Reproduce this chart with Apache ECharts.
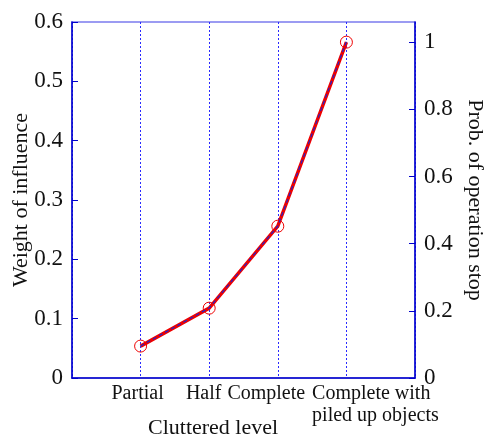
<!DOCTYPE html>
<html>
<head>
<meta charset="utf-8">
<script src="https://cdn.jsdelivr.net/npm/echarts@6/dist/echarts.min.js"></script>
<style>
  html, body { margin: 0; padding: 0; background: #fff; }
  #main { width: 484px; height: 443px; }
</style>
</head>
<body>
<div id="main"></div>
<script>
// clutter levels, placed at x = 1..4 on a 0..5 axis
var categories = ['Partial', 'Half', 'Complete', 'Complete with\npiled up objects'];
var xPos = [1, 2, 3, 4];
// left axis: weight of influence
var weight = [0.054, 0.118, 0.256, 0.567];
// right axis: probability of operation stop
var prob = [0.095, 0.208, 0.452, 1.0];

var font = 'Liberation Serif, Times New Roman, serif';
var axisBlue = '#0000cc';

var chart = echarts.init(document.getElementById('main'));
chart.setOption({
  animation: false,
  grid: {
    left: 72, right: 69, top: 22, bottom: 65,
    outerBoundsMode: 'none',
    containLabel: false,
    show: true, borderColor: '#7b7bee', borderWidth: 1.5
  },
  xAxis: {
    type: 'value', min: 0, max: 5, interval: 1,
    axisLine: { lineStyle: { color: axisBlue, width: 1.5 } },
    axisTick: { show: false },
    splitLine: { show: true, lineStyle: { color: '#2a2aff', type: [2, 2], width: 1 } },
    axisLabel: {
      color: '#111', fontFamily: font, fontSize: 20, lineHeight: 22, margin: 5,
      formatter: function (v) {
        if (v === 1) return '{a|' + categories[0] + '}';
        if (v === 2) return '{b|' + categories[1] + '}';
        if (v === 3) return '{c|' + categories[2] + '}';
        if (v === 4) return categories[3].split('\n').map(function (s) { return '{d|' + s + '}'; }).join('\n');
        return '';
      },
      rich: {
        a: { fontFamily: font, fontSize: 20, color: '#111', padding: [0, 6, 0, 0] },
        b: { fontFamily: font, fontSize: 20, color: '#111', padding: [0, 11, 0, 0] },
        c: { fontFamily: font, fontSize: 20, color: '#111', padding: [0, 23, 0, 0] },
        d: { fontFamily: font, fontSize: 20, color: '#111', lineHeight: 22, align: 'left', padding: [0, 0, 0, 58] }
      }
    }
  },
  yAxis: [
    {
      type: 'value', min: 0, max: 0.6, interval: 0.1, position: 'left',
      name: 'Weight of influence', nameLocation: 'middle', nameGap: 40, nameRotate: 90,
      nameMoveOverlap: false,
      nameTextStyle: { color: '#111', fontFamily: font, fontSize: 22 },
      axisLine: { show: true, lineStyle: { color: axisBlue, width: 1.5 } },
      axisTick: { show: true, inside: true, length: 6, lineStyle: { color: axisBlue } },
      splitLine: { show: false },
      axisLabel: { color: '#111', fontFamily: font, fontSize: 23, margin: 9 }
    },
    {
      type: 'value', min: 0, max: 1.06, interval: 0.2, position: 'right',
      name: 'Prob. of operation stop', nameLocation: 'middle', nameGap: 49, nameRotate: -90,
      nameMoveOverlap: false,
      nameTextStyle: { color: '#111', fontFamily: font, fontSize: 22 },
      axisLine: { show: true, lineStyle: { color: axisBlue, width: 1.5 } },
      axisTick: { show: true, inside: true, length: 6, lineStyle: { color: axisBlue } },
      splitLine: { show: false },
      axisLabel: {
        color: '#111', fontFamily: font, fontSize: 23, margin: 9, showMaxLabel: false,
        formatter: function (v) { return Math.round(v * 10) / 10; }
      }
    }
  ],
  graphic: [{
    type: 'text', left: 148, top: 417,
    style: { text: 'Cluttered level', font: '22px ' + font, fill: '#111' }
  }],
  series: [
    {
      name: 'prob', type: 'line', yAxisIndex: 1,
      data: xPos.map(function (x, i) { return [x, prob[i]]; }),
      lineStyle: { color: '#ee0000', width: 3.5 },
      symbol: 'circle', symbolSize: 12, showAllSymbol: true,
      itemStyle: { color: 'rgba(0,0,0,0)', borderColor: '#ee0000', borderWidth: 1 },
      z: 2
    },
    {
      name: 'weight', type: 'line', yAxisIndex: 0,
      data: xPos.map(function (x, i) { return [x, weight[i]]; }),
      lineStyle: { color: '#2222cc', width: 1.2, type: [4, 3] },
      symbol: 'none',
      z: 3
    }
  ]
});
</script>
</body>
</html>
